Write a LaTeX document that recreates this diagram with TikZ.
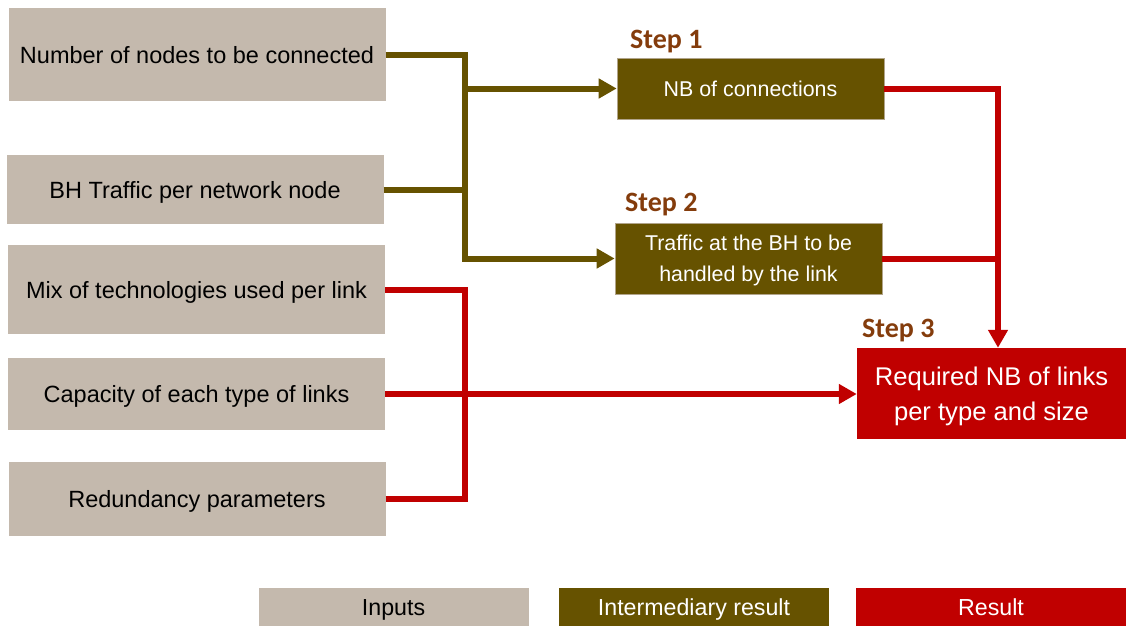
\documentclass[tikz,border=0pt]{standalone}
\usepackage{fontspec}
\setmainfont{Liberation Sans}
\newfontfamily\stepfont{Carlito}
\usepackage{tikz}
\usetikzlibrary{arrows.meta, positioning}
\definecolor{bhtan}{RGB}{196, 185, 173}
\definecolor{bholive}{RGB}{102, 82, 0}
\definecolor{bhred}{RGB}{192, 0, 0}
\definecolor{bhbrown}{RGB}{132, 60, 12}

\begin{document}
\begin{tikzpicture}[x=1pt, y=-1pt,
    inbox/.style={fill=bhtan, inner sep=0pt, minimum width=377pt, minimum height=#1,
        text height=17pt, text depth=0pt, font=\fontsize{23.5}{28}\selectfont},
    midbox/.style={fill=bholive, draw=bhtan!80!bholive, line width=0.6pt, text=white,
        inner sep=0pt, minimum width=267pt, minimum height=#1, align=center,
        text depth=0pt, font=\fontsize{21.4}{31}\selectfont},
    resbox/.style={fill=bhred, text=white, inner sep=0pt, minimum width=269pt,
        minimum height=91pt, align=center, text depth=0pt,
        font=\fontsize{25.6}{35}\selectfont},
    keybox/.style={fill=#1, inner sep=0pt, minimum width=270pt, minimum height=38pt,
        text height=16.6pt, text depth=0pt, font=\fontsize{23.2}{28}\selectfont},
    steplabel/.style={anchor=base west, inner sep=0pt, text=bhbrown,
        font=\stepfont\bfseries\fontsize{28}{32}\selectfont},
    oline/.style={draw=bholive, line width=6pt},
    rline/.style={draw=bhred, line width=6pt},
    tip/.style={-{Triangle[length=18pt, width=19pt]}}]
\useasboundingbox (0,0) rectangle (1127,627);

% Inputs
\node[inbox=93pt] (nodes) at (197,54.5) {Number of nodes to be connected};
\node[inbox=69pt] (traffic) at (195,189.5) {BH Traffic per network node};
\node[inbox=89pt] (mix) at (196.5,289.5) {Mix of technologies used per link};
\node[inbox=72pt] (capacity) at (196.5,394) {Capacity of each type of links};
\node[inbox=74pt] (redundancy) at (197,499) {Redundancy parameters};

% Steps
\node[midbox=61pt] (nbconn) at (750.5,88.5) {NB of connections};
\node[midbox=71pt] (bhtraffic) at (748.5,258.5) {Traffic at the BH to be\\handled by the link};
\node[resbox] (required) at (991.5,393.5) {Required NB of links\\per type and size};

\node[steplabel] (step1) at (630,48) {Step 1};
\node[steplabel] (step2) at (625,211) {Step 2};
\node[steplabel] (step3) at (862,337) {Step 3};

% Connectors
\coordinate (ojoin) at (464.5,189.5);
\coordinate (rjoin) at (464.5,394);
\coordinate (sjoin) at (998,258.5);

\draw[oline] (nodes.east) -| (ojoin);
\draw[oline] (traffic.east) -- (ojoin);
\draw[oline, tip] (ojoin) |- (nbconn.west);
\draw[oline, tip] (ojoin) |- (bhtraffic.west);

\draw[rline] (mix.east) -| (rjoin);
\draw[rline] (redundancy.east) -| (rjoin);
\draw[rline, tip] (capacity.east) -- (required.west |- capacity.east);

\draw[rline] (nbconn.east) -| (sjoin);
\draw[rline] (bhtraffic.east) -- (sjoin);
\draw[rline, tip] (sjoin) -- (sjoin |- required.north);

% Legend
\node[keybox=bhtan] (keyin) at (393.5,607) {Inputs};
\node[keybox=bholive, text=white] (keymid) at (694,607) {Intermediary result};
\node[keybox=bhred, text=white] (keyres) at (991,607) {Result};
\end{tikzpicture}
\end{document}
